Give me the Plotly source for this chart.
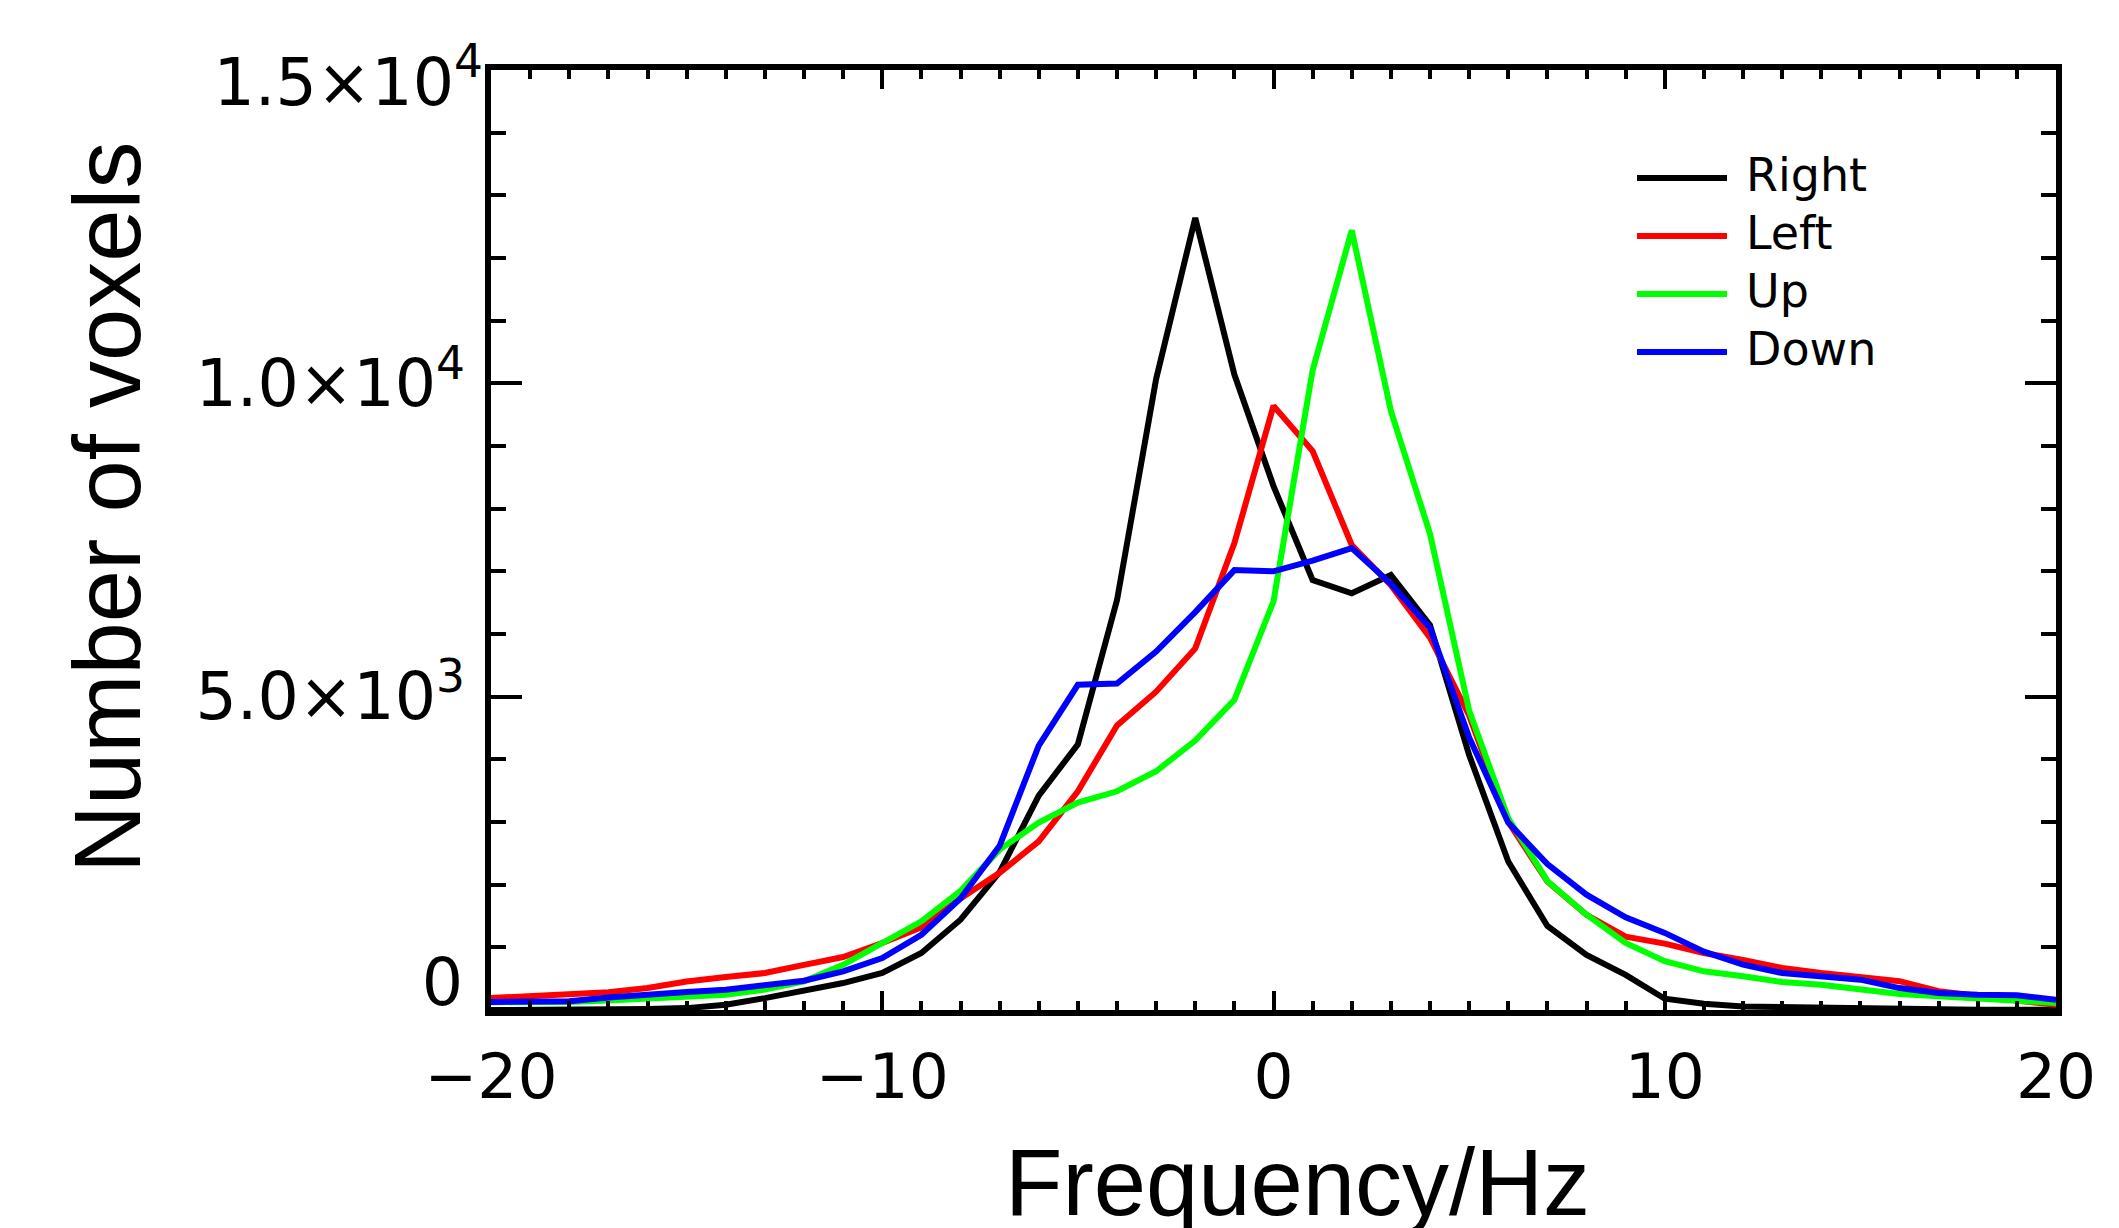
import plotly.graph_objects as go

# ---------------- data ----------------
freq = list(range(-20, 21))

right = [0, 0, 5, 10, 15, 30, 85, 190, 300, 430, 590, 910, 1440, 2200, 3420, 4240,
         6540, 10070, 12640, 10140, 8360, 6860, 6650, 6940, 6140, 4070, 2370, 1340,
         880, 560, 180, 100, 55, 45, 25, 20, 10, 10, 5, 5, 5]
left = [190, 220, 245, 285, 350, 455, 525, 590, 720, 845, 1070, 1320, 1780, 2190,
        2690, 3490, 4540, 5080, 5770, 7450, 9640, 8920, 7420, 6780, 5940, 4700, 3000,
        2050, 1520, 1170, 1060, 910, 800, 670, 590, 535, 460, 300, 220, 150, 85]
up = [125, 122, 128, 150, 180, 200, 245, 325, 457, 720, 1070, 1415, 1900, 2560, 2990,
      3310, 3490, 3810, 4300, 4950, 6520, 10210, 12440, 9560, 7600, 4780, 3060, 2060,
      1520, 1070, 780, 617, 537, 447, 404, 324, 255, 218, 191, 149, 112]
down = [128, 135, 138, 200, 255, 287, 324, 404, 468, 617, 830, 1200, 1780, 2620, 4220,
        5190, 5210, 5720, 6350, 7020, 7000, 7170, 7370, 6800, 6100, 4350, 2990, 2330,
        1840, 1480, 1230, 930, 723, 590, 537, 484, 350, 271, 245, 234, 165]

series_names = ["Right", "Left", "Up", "Down"]
series_values = [right, left, up, down]
series_colors = ["#000000", "#ff0000", "#00ff00", "#0000ff"]

x_ticks = [-20, -10, 0, 10, 20]
x_tick_labels = ["\u221220", "\u221210", "0", "10", "20"]
y_ticks = [0, 5000, 10000, 15000]
y_tick_labels = ["0", "5.0\u00d710<sup>3</sup>", "1.0\u00d710<sup>4</sup>", "1.5\u00d710<sup>4</sup>"]

x_title = "Frequency/Hz"
y_title = "Number of voxels"

# ---------------- layout constants ----------------
W, H = 2119, 1228
L, R, T, B = 483, 71, 62, 226
PW, PH = W - L - R, H - T - B

def px_to_paper_x(px):
    return (px - L) / PW

def px_to_paper_y(py):
    return (H - B - py) / PH

xtick_font = dict(family="DejaVu Sans", size=63, color="black")
ytick_font = dict(family="DejaVu Sans", size=65, color="black")
title_font = dict(family="Liberation Sans, Arial, sans-serif", size=94, color="black")
legend_font = dict(family="DejaVu Sans", size=46, color="black")

fig = go.Figure()

for name, vals, col in zip(series_names, series_values, series_colors):
    fig.add_trace(go.Scatter(x=freq, y=vals, mode="lines", name=name,
                             line=dict(color=col, width=6), showlegend=False))

# dummy traces to attach the extra label axes
fig.add_trace(go.Scatter(x=[None], y=[None], yaxis="y2", showlegend=False, hoverinfo="skip"))
fig.add_trace(go.Scatter(x=[None], y=[None], yaxis="y3", showlegend=False, hoverinfo="skip"))

common_y = dict(range=[0, 15000], showgrid=False, zeroline=False, tickfont=ytick_font,
                fixedrange=True)

fig.update_layout(
    width=W, height=H,
    margin=dict(l=L, r=R, t=T, b=B),
    paper_bgcolor="white", plot_bgcolor="white",
    showlegend=False,
    xaxis=dict(range=[-20, 20], tickvals=x_ticks, ticktext=x_tick_labels,
               ticks="inside", ticklen=19, tickwidth=4, tickcolor="black",
               minor=dict(ticks="inside", ticklen=9, tickwidth=4, tickcolor="black",
                          tickmode="linear", tick0=-20, dtick=1),
               showline=True, linewidth=6, linecolor="black", mirror="ticks",
               showgrid=False, zeroline=False, tickfont=xtick_font,
               ticklabelstandoff=6, fixedrange=True),
    yaxis=dict(tickvals=y_ticks,
               ticktext=["", y_tick_labels[1], y_tick_labels[2], ""],
               ticks="inside", ticklen=31, tickwidth=4, tickcolor="black",
               minor=dict(ticks="inside", ticklen=15, tickwidth=4, tickcolor="black",
                          tickmode="linear", tick0=0, dtick=1000),
               showline=True, linewidth=6, linecolor="black", mirror="ticks",
               ticklabelstandoff=7, **common_y),
    yaxis2=dict(overlaying="y", side="left", anchor="x", tickvals=[y_ticks[3]],
                ticktext=[y_tick_labels[3]], ticks="", showline=False,
                ticklabelshift=12, ticklabelstandoff=7, **common_y),
    yaxis3=dict(overlaying="y", side="left", anchor="x", tickvals=[y_ticks[0]],
                ticktext=[y_tick_labels[0]], ticks="", showline=False,
                ticklabelshift=-28, ticklabelstandoff=27, **common_y),
)

annotations = [
    dict(text=x_title, xref="paper", yref="paper", x=px_to_paper_x(1289),
         y=px_to_paper_y(1174), xanchor="center", yanchor="middle",
         showarrow=False, font=title_font),
    dict(text=y_title, xref="paper", yref="paper", x=px_to_paper_x(100),
         y=px_to_paper_y(500), xanchor="center", yanchor="middle",
         textangle=-90, showarrow=False, font=title_font),
]

# legend (long line samples, like the original)
shapes = []
leg_y0, leg_dy = 170, 58
for i, (name, col) in enumerate(zip(series_names, series_colors)):
    yp = px_to_paper_y(leg_y0 + i * leg_dy)
    shapes.append(dict(type="line", xref="paper", yref="paper",
                       x0=px_to_paper_x(1629), x1=px_to_paper_x(1719), y0=yp, y1=yp,
                       line=dict(color=col, width=6)))
    annotations.append(dict(text=name, xref="paper", yref="paper",
                            x=px_to_paper_x(1736), y=px_to_paper_y(leg_y0 + i * leg_dy - 3),
                            xanchor="left", yanchor="middle", showarrow=False,
                            font=legend_font))

fig.update_layout(annotations=annotations, shapes=shapes)

fig.write_html("out.html")
